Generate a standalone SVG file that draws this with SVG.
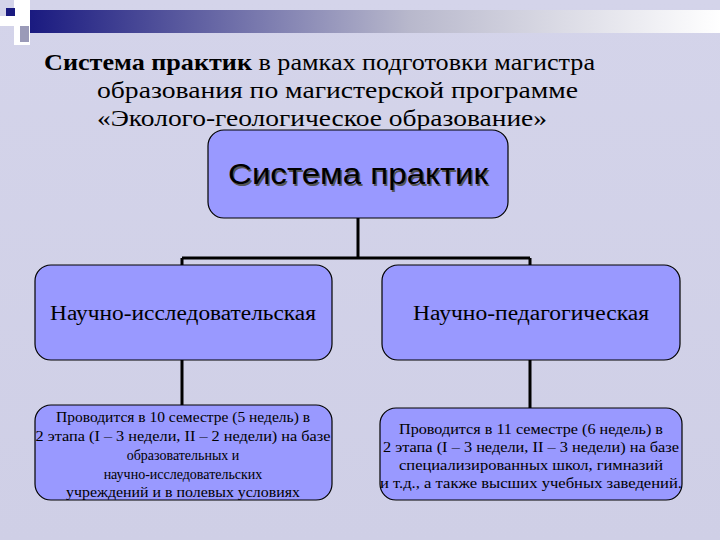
<svg xmlns="http://www.w3.org/2000/svg" width="720" height="540" viewBox="0 0 720 540">
<defs>
<linearGradient id="bar" x1="0" x2="1" y1="0" y2="0">
<stop offset="0" stop-color="#1a1a80"/><stop offset="0.55" stop-color="#b8b8cc"/><stop offset="1" stop-color="#ffffff"/>
</linearGradient>
<linearGradient id="bg" x1="0" x2="0" y1="0" y2="1">
<stop offset="0" stop-color="#d4d4ea"/><stop offset="1" stop-color="#cfcfe6"/>
</linearGradient>
</defs>
<style>
.box{fill:#9999ff;stroke:#000;stroke-width:1.2}
.ln{stroke:#000;stroke-width:3;fill:none}
.t{font-family:"Liberation Serif",serif;fill:#000}
.s{font-family:"Liberation Serif",serif;font-size:14px;text-anchor:middle;fill:#000}
</style>
<rect width="720" height="540" fill="url(#bg)"/>
<g id="decor">
<rect x="14" y="0" width="16" height="45" fill="#ffffff"/>
<rect x="0" y="16" width="45" height="10" fill="#ffffff"/>
<rect x="6" y="8" width="9" height="8" fill="#1a1a80"/>
<rect x="20" y="26" width="9" height="16" fill="#9a9ab8"/>
<rect x="30" y="10" width="690" height="23" fill="url(#bar)"/>
</g>
<g id="title" class="t" font-size="24">
<text x="44" y="70" textLength="551" lengthAdjust="spacingAndGlyphs"><tspan font-weight="bold">Система практик</tspan> в рамках подготовки магистра</text>
<text x="97" y="98" textLength="481" lengthAdjust="spacingAndGlyphs">образования по магистерской программе</text>
<text x="97" y="126" textLength="450" lengthAdjust="spacingAndGlyphs">«Эколого-геологическое образование»</text>
</g>
<g id="connectors">
<path class="ln" d="M358 218V258M182 258H530M182 258V265M530 258V265M182 360V405M530 360V408"/>
</g>
<g id="root">
<rect class="box" x="208" y="130" width="300" height="88" rx="16"/>
<text x="359.5" y="185.5" font-family="Liberation Sans,sans-serif" font-size="30" text-anchor="middle" fill="#555" textLength="260" lengthAdjust="spacingAndGlyphs">Система практик</text>
<text x="358" y="184" font-family="Liberation Sans,sans-serif" font-size="30" text-anchor="middle" fill="#000" textLength="260" lengthAdjust="spacingAndGlyphs">Система практик</text>
</g>
<g id="left">
<rect class="box" x="35" y="265" width="297" height="95" rx="16"/>
<text class="t" x="183" y="320" font-size="20" text-anchor="middle" textLength="266" lengthAdjust="spacingAndGlyphs">Научно-исследовательская</text>
</g>
<g id="right">
<rect class="box" x="382" y="265" width="298" height="95" rx="16"/>
<text class="t" x="531" y="320" font-size="20" text-anchor="middle" textLength="236" lengthAdjust="spacingAndGlyphs">Научно-педагогическая</text>
</g>
<g id="leftDetail">
<rect class="box" x="35" y="405" width="297" height="95" rx="16"/>
<text class="s" x="183" y="422" textLength="254" lengthAdjust="spacingAndGlyphs">Проводится в 10 семестре (5 недель) в</text>
<text class="s" x="183" y="441" textLength="295" lengthAdjust="spacingAndGlyphs">2 этапа (I – 3 недели, II – 2 недели) на базе</text>
<text class="s" x="183" y="460">образовательных и</text>
<text class="s" x="183" y="479">научно-исследовательских</text>
<text class="s" x="183" y="497" textLength="234" lengthAdjust="spacingAndGlyphs">учреждений и в полевых условиях</text>
</g>
<g id="rightDetail">
<rect class="box" x="380" y="408" width="302" height="92" rx="16"/>
<text class="s" x="531" y="434" textLength="264" lengthAdjust="spacingAndGlyphs">Проводится в 11 семестре (6 недель) в</text>
<text class="s" x="531" y="452" textLength="296" lengthAdjust="spacingAndGlyphs">2 этапа (I – 3 недели, II – 3 недели) на базе</text>
<text class="s" x="531" y="470" textLength="264" lengthAdjust="spacingAndGlyphs">специализированных школ, гимназий</text>
<text class="s" x="531" y="488" textLength="302" lengthAdjust="spacingAndGlyphs">и т.д., а также высших учебных заведений.</text>
</g>
</svg>
